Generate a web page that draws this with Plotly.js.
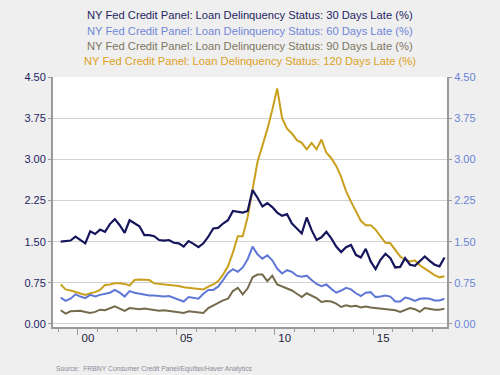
<!DOCTYPE html>
<html>
<head>
<meta charset="utf-8">
<script src="https://cdn.plot.ly/plotly-3.0.1.min.js"></script>
<style>html,body{margin:0;padding:0;background:#efefef;}#chart{width:500px;height:375px;}</style>
</head>
<body>
<div id="chart"></div>
<script>
// Quarterly observations, 1999Q1 .. 2018Q3
const startYear = 1999;
const nQuarters = 79;
const quarters = [];
for (let i = 0; i < nQuarters; i++) quarters.push(startYear + Math.floor(i / 4) + ((i % 4) + 0.5) / 4);

const late30 = [1.50,1.51,1.52,1.59,1.53,1.47,1.69,1.64,1.72,1.68,1.82,1.91,1.80,1.66,1.89,1.83,1.78,1.62,1.62,1.60,
  1.53,1.52,1.53,1.48,1.47,1.41,1.51,1.46,1.40,1.47,1.59,1.74,1.75,1.83,1.89,2.06,2.04,2.03,2.06,2.44,
  2.30,2.14,2.20,2.13,2.03,1.97,2.00,1.83,1.74,1.65,1.94,1.71,1.53,1.58,1.68,1.56,1.41,1.31,1.40,1.44,
  1.26,1.21,1.37,1.14,1.00,1.17,1.28,1.20,1.03,1.04,1.20,1.08,1.06,1.14,1.23,1.15,1.08,1.05,1.21];
const late60 = [0.48,0.42,0.46,0.54,0.50,0.47,0.53,0.50,0.53,0.55,0.57,0.62,0.57,0.50,0.60,0.57,0.55,0.53,0.52,0.52,
  0.51,0.50,0.51,0.48,0.45,0.41,0.49,0.48,0.46,0.55,0.62,0.62,0.68,0.80,0.93,1.00,0.95,1.03,1.18,1.41,
  1.27,1.19,1.25,1.16,1.01,0.92,0.98,0.95,0.88,0.86,0.88,0.80,0.73,0.69,0.72,0.64,0.57,0.61,0.66,0.63,
  0.56,0.51,0.57,0.58,0.49,0.50,0.52,0.50,0.41,0.41,0.48,0.46,0.42,0.46,0.47,0.46,0.43,0.43,0.46];
const late90 = [0.25,0.19,0.23,0.24,0.24,0.22,0.20,0.22,0.26,0.25,0.28,0.32,0.28,0.24,0.29,0.28,0.27,0.28,0.27,0.25,
  0.24,0.25,0.24,0.22,0.21,0.20,0.23,0.22,0.21,0.20,0.29,0.34,0.38,0.43,0.46,0.60,0.66,0.54,0.65,0.85,
  0.90,0.90,0.78,0.88,0.72,0.68,0.65,0.61,0.55,0.49,0.56,0.52,0.47,0.40,0.42,0.41,0.37,0.31,0.34,0.32,
  0.33,0.30,0.32,0.30,0.29,0.27,0.27,0.26,0.25,0.22,0.25,0.29,0.27,0.22,0.29,0.27,0.26,0.26,0.28];
const late120 = [0.72,0.63,0.61,0.58,0.55,0.53,0.56,0.58,0.62,0.71,0.72,0.74,0.74,0.73,0.70,0.80,0.81,0.81,0.80,0.74,
  0.73,0.72,0.72,0.70,0.69,0.67,0.66,0.65,0.65,0.63,0.68,0.72,0.78,0.90,1.05,1.30,1.60,1.60,1.95,2.45,
  2.95,3.25,3.55,3.90,4.29,3.75,3.56,3.47,3.35,3.30,3.18,3.30,3.18,3.36,3.12,3.02,2.88,2.68,2.42,2.23,
  2.05,1.88,1.80,1.80,1.72,1.59,1.48,1.47,1.35,1.23,1.17,1.14,1.16,1.07,1.01,0.95,0.89,0.85,0.87];

const seriesNames = [
  'NY Fed Credit Panel: Loan Delinquency Status: 30 Days Late (%)',
  'NY Fed Credit Panel: Loan Delinquency Status: 60 Days Late (%)',
  'NY Fed Credit Panel: Loan Delinquency Status: 90 Days Late (%)',
  'NY Fed Credit Panel: Loan Delinquency Status: 120 Days Late (%)'
];
const xTickVals = [2000, 2005, 2010, 2015];
const xTickText = ['00', '05', '10', '15'];
const minorYears = [1999,2000,2001,2002,2003,2004,2005,2006,2007,2008,2009,2010,2011,2012,2013,2014,2015,2016,2017,2018];
const sourceText = 'Source:  FRBNY Consumer Credit Panel/Equifax/Haver Analytics';

const lineColors = ['#16165c', '#5f78d6', '#766a4c', '#c9a01e'];
const textColors = ['#1e1e62', '#6f86d8', '#7d7560', '#dca21e'];

const yRange = [-0.055, 4.5];
const xRange = [1998.734, 2018.754];

const traces = [
  {x: quarters, y: late120, name: seriesNames[3], line: {color: lineColors[3], width: 2}},
  {x: quarters, y: late90, name: seriesNames[2], line: {color: lineColors[2], width: 2}},
  {x: quarters, y: late60, name: seriesNames[1], yaxis: 'y2', line: {color: lineColors[1], width: 2}},
  {x: quarters, y: late30, name: seriesNames[0], line: {color: lineColors[0], width: 2.2}}
].map(t => Object.assign({type: 'scatter', mode: 'lines', hoverinfo: 'skip'}, t));

const legendY = [1.247, 1.186, 1.125, 1.064];
const annotations = seriesNames.map((s, k) => ({
  text: s, xref: 'paper', yref: 'paper', x: 0.5, y: legendY[k], xanchor: 'center', yanchor: 'middle',
  showarrow: false, font: {family: 'Arial, Liberation Sans, sans-serif', size: 11.2, color: textColors[k]}
}));
annotations.push({
  text: sourceText, xref: 'paper', yref: 'paper', x: 0.003, y: -0.168, xanchor: 'left', yanchor: 'middle',
  showarrow: false, font: {family: 'Arial, Liberation Sans, sans-serif', size: 6.8, color: '#8a8a98'}
});

const yCommon = {
  range: yRange, tick0: 0, dtick: 0.75, tickformat: '.2f', zeroline: false,
  showline: true, linecolor: '#9a9a9a', linewidth: 2, ticks: 'outside', ticklen: 3, tickcolor: '#9a9a9a',
  fixedrange: true
};

const layout = {
  width: 500, height: 375,
  margin: {l: 53, r: 53, t: 77, b: 48},
  paper_bgcolor: '#efefef', plot_bgcolor: '#ffffff',
  showlegend: false,
  font: {family: 'Arial, Liberation Sans, sans-serif'},
  xaxis: {
    range: xRange, tickmode: 'array', tickvals: xTickVals, ticktext: xTickText,
    ticklabelshift: 10, ticklabelstandoff: -7, ticks: 'outside', ticklen: 6, tickcolor: '#9a9a9a', tickwidth: 1,
    minor: {tickmode: 'array', tickvals: minorYears, ticks: 'outside', ticklen: 3, tickcolor: '#9a9a9a', showgrid: false},
    showgrid: false, zeroline: false, showline: true, linecolor: '#9a9a9a', linewidth: 2,
    tickfont: {size: 11.5, color: '#1e1e3c'}, fixedrange: true
  },
  yaxis: Object.assign({}, yCommon, {
    showgrid: true, gridcolor: '#d2d2d2', gridwidth: 1,
    tickfont: {size: 11, color: '#1e1e62'}
  }),
  yaxis2: Object.assign({}, yCommon, {
    overlaying: 'y', side: 'right', showgrid: false,
    tickfont: {size: 11, color: '#6a84d8'}
  }),
  annotations: annotations
};

Plotly.newPlot('chart', traces, layout, {displayModeBar: false, staticPlot: true});
</script>
</body>
</html>
